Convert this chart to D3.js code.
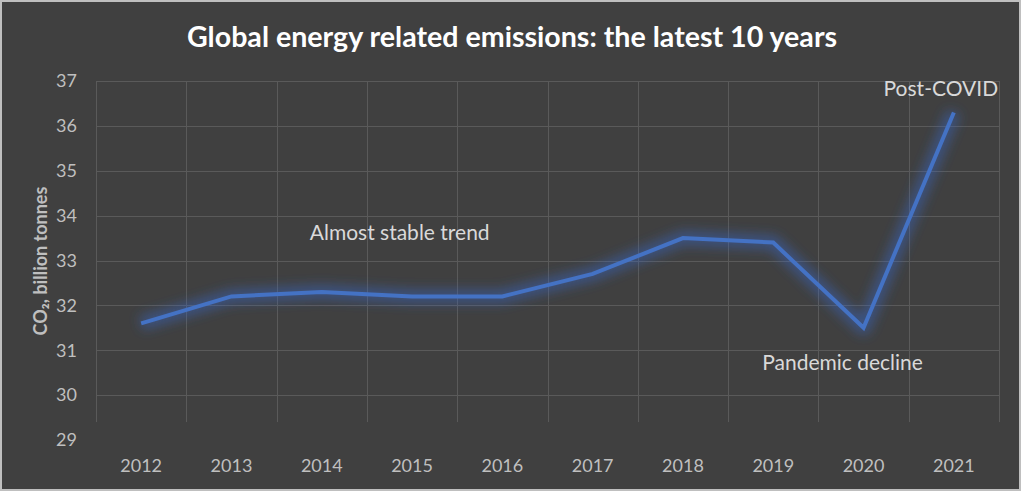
<!DOCTYPE html>
<html>
<head>
<meta charset="utf-8">
<script src="https://cdn.jsdelivr.net/npm/d3@7"></script>
<style>
  html, body { margin: 0; padding: 0; background: #ffffff; }
  svg { display: block; font-family: Lato, "Open Sans", sans-serif; }
</style>
</head>
<body>
<div id="chart"></div>
<script>
// Data
const years = ["2012", "2013", "2014", "2015", "2016", "2017", "2018", "2019", "2020", "2021"];
const emissions = [31.6, 32.2, 32.3, 32.2, 32.2, 32.7, 33.5, 33.4, 31.5, 36.3];
const yTicks = [29, 30, 31, 32, 33, 34, 35, 36, 37];
const gridValues = [30, 31, 32, 33, 34, 35, 36, 37];
const notes = [
  { text: "Almost stable trend", year: "2014", value: 33.46, anchor: "start", dx: -12 },
  { text: "Post-COVID", year: "2021", value: 36.67, anchor: "middle", dx: -13 },
  { text: "Pandemic decline", year: "2020", value: 30.56, anchor: "middle", dx: -21 }
];

// Chart dimensions
const width = 1024;
const height = 492;
const margin = { top: 81, right: 25, bottom: 52, left: 96 };

const svg = d3.select("#chart")
  .append("svg")
  .attr("width", width)
  .attr("height", height);

// Background and border
svg.append("rect")
  .attr("x", 1)
  .attr("y", 1)
  .attr("width", 1019)
  .attr("height", 489)
  .attr("fill", "#404040")
  .attr("stroke", "#bfbfbf")
  .attr("stroke-width", 2);

// Scales
const xScale = d3.scaleBand()
  .domain(years)
  .range([margin.left, width - margin.right])
  .padding(0);

const yScale = d3.scaleLinear()
  .domain([29, 37])
  .range([height - 52, margin.top]);

// Gridlines
const grid = svg.append("g").attr("stroke", "#5a5a5a").attr("stroke-width", 1);

grid.selectAll(".hgrid")
  .data(gridValues)
  .enter()
  .append("line")
  .attr("class", "hgrid")
  .attr("x1", margin.left)
  .attr("x2", width - margin.right)
  .attr("y1", (d) => Math.round(yScale(d)) + 0.5)
  .attr("y2", (d) => Math.round(yScale(d)) + 0.5);

grid.selectAll(".vgrid")
  .data(years.concat(["end"]))
  .enter()
  .append("line")
  .attr("class", "vgrid")
  .attr("x1", (d, i) => Math.round(margin.left + i * xScale.bandwidth()) + 0.5)
  .attr("x2", (d, i) => Math.round(margin.left + i * xScale.bandwidth()) + 0.5)
  .attr("y1", yScale(37))
  .attr("y2", yScale(29.4));

// Axes
const xAxis = d3.axisBottom(xScale).tickSize(0).tickPadding(0);
const yAxis = d3.axisLeft(yScale).tickValues(yTicks).tickSize(0).tickPadding(0);

const gx = svg.append("g")
  .attr("transform", `translate(0, ${yScale(29) + 26})`)
  .call(xAxis);

const gy = svg.append("g")
  .attr("transform", `translate(${margin.left - 19}, 0)`)
  .call(yAxis);

[gx, gy].forEach((g) => {
  g.select(".domain").remove();
  g.selectAll("text")
    .attr("fill", "#bfbfbf")
    .style("font-size", "18px")
    .style("font-family", "Lato, sans-serif");
});
gx.selectAll("text").attr("dy", "0.35em").attr("y", 0);

// Y axis title
svg.append("text")
  .attr("transform", `translate(47, 261) rotate(-90)`)
  .attr("text-anchor", "middle")
  .attr("fill", "#bfbfbf")
  .style("font-size", "18px")
  .style("font-weight", "bold")
  .text("CO₂, billion tonnes");

// Title
svg.append("text")
  .attr("x", 512)
  .attr("y", 47)
  .attr("text-anchor", "middle")
  .attr("fill", "#ffffff")
  .style("font-size", "28.6px")
  .style("font-weight", "bold")
  .text("Global energy related emissions: the latest 10 years");

// Glow filter
const defs = svg.append("defs");
const glow = defs.append("filter")
  .attr("id", "glow")
  .attr("x", "-20%")
  .attr("y", "-40%")
  .attr("width", "140%")
  .attr("height", "180%");
glow.append("feGaussianBlur")
  .attr("in", "SourceGraphic")
  .attr("stdDeviation", 6);

// Line
const line = d3.line()
  .x((d, i) => xScale(years[i]) + xScale.bandwidth() / 2)
  .y((d) => yScale(d));

svg.append("path")
  .datum(emissions)
  .attr("d", line)
  .attr("fill", "none")
  .attr("stroke", "#3a66c4")
  .attr("stroke-opacity", 0.5)
  .attr("stroke-width", 14)
  .attr("stroke-linejoin", "round")
  .attr("filter", "url(#glow)");

svg.append("path")
  .datum(emissions)
  .attr("d", line)
  .attr("fill", "none")
  .attr("stroke", "#4472c4")
  .attr("stroke-width", 4)
  .attr("stroke-linejoin", "miter");

// Annotations
svg.selectAll(".note")
  .data(notes)
  .enter()
  .append("text")
  .attr("class", "note")
  .attr("x", (d) => xScale(d.year) + xScale.bandwidth() / 2 + d.dx)
  .attr("y", (d) => yScale(d.value))
  .attr("text-anchor", (d) => d.anchor)
  .attr("fill", "#d9d9d9")
  .style("font-size", "21px")
  .text((d) => d.text);
</script>
</body>
</html>
